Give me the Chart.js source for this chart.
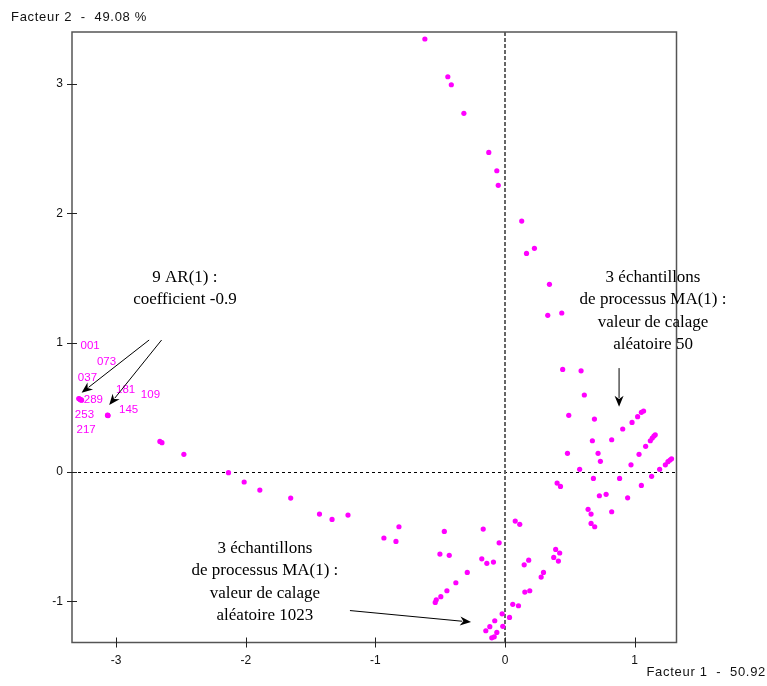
<!DOCTYPE html>
<html>
<head>
<meta charset="utf-8">
<script src="https://cdn.jsdelivr.net/npm/chart.js@4.4.0/dist/chart.umd.min.js"></script>
<style>
  html, body { margin: 0; padding: 0; background: #fff; }
</style>
</head>
<body>
<canvas id="chart" width="767" height="686"></canvas>
<script>
// factor coordinates (Facteur 1, Facteur 2)
const facteur1 = [
  -0.618, -0.441, -0.414, -0.317, -0.125, -0.063, -0.052, 0.129, 0.166, 0.227,
  0.343, 0.330, 0.438, 0.445, 0.587, 0.612, 0.492, 0.690, 0.908, 0.980,
  1.023, 1.052, 1.069, 0.674, 0.823, 0.482, 0.718, 0.736, 1.085, 1.121,
  1.136, 1.149, 1.159, 1.034, 0.972, 0.576, 1.193, 1.237, 1.257, 1.273,
  1.285, 0.682, 0.884, 1.131, 1.052, 0.402, 0.428, 0.728, 0.780, 0.946,
  0.641, 0.664, 0.823, 0.664, 0.692, 0.079, 0.114, -0.468, -0.168, -0.045,
  -0.502, -0.430, -0.179, -0.140, -0.089, 0.391, 0.422, 0.376, 0.412, 0.183,
  0.148, -0.291, 0.297, 0.279, -0.379, -0.448, -0.495, -0.530, -0.538, 0.153,
  0.191, 0.060, 0.104, -0.022, 0.035, -0.079, -0.117, -0.148, -0.017, -0.063,
  -0.083, -0.102, -2.477, -2.133, -2.012, -1.891, -1.653, -1.431, -1.334, -1.211,
  -0.934, -0.841, -0.818, -2.662, -2.646,
  -3.288, -3.283, -3.279, -3.275, -3.270, -3.266, -3.066, -3.064, -3.062
];
const facteur2 = [
  3.349, 3.057, 2.995, 2.774, 2.472, 2.330, 2.217, 1.941, 1.691, 1.730,
  1.452, 1.212, 1.230, 0.794, 0.783, 0.596, 0.439, 0.410, 0.333, 0.384,
  0.428, 0.462, 0.472, 0.242, 0.250, 0.145, 0.145, 0.083, 0.199, 0.242,
  0.263, 0.278, 0.288, 0.137, 0.056, 0.021, 0.021, 0.056, 0.080, 0.093,
  0.103, -0.049, -0.049, -0.033, -0.103, -0.085, -0.111, -0.183, -0.172, -0.199,
  -0.288, -0.325, -0.307, -0.397, -0.423, -0.379, -0.404, -0.459, -0.441, -0.547,
  -0.634, -0.644, -0.671, -0.706, -0.696, -0.598, -0.626, -0.660, -0.688, -0.681,
  -0.717, -0.776, -0.776, -0.812, -0.856, -0.918, -0.964, -0.988, -1.008, -0.928,
  -0.918, -1.023, -1.034, -1.096, -1.124, -1.150, -1.196, -1.227, -1.193, -1.240,
  -1.274, -1.282, 0.137, -0.005, -0.077, -0.139, -0.201, -0.325, -0.366, -0.333,
  -0.510, -0.536, -0.423, 0.237, 0.227,
  0.569, 0.566, 0.563, 0.561, 0.558, 0.556, 0.440, 0.438, 0.437
];
const xTicks = [-3, -2, -1, 0, 1];
const yTicks = [-1, 0, 1, 2, 3];

// labels of the AR(1) observations: text, left x, middle y (data units)
const idLabels = [
  ['001', -3.274, 0.974], ['073', -3.148, 0.853], ['037', -3.295, 0.729],
  ['289', -3.249, 0.562], ['253', -3.318, 0.441], ['217', -3.305, 0.325],
  ['181', -3.000, 0.634], ['109', -2.809, 0.596], ['145', -2.977, 0.480]
];

// comment blocks: lines, centre x, y of first line (data units)
const notes = [
  { lines: ['9 AR(1) :', 'coefficient -0.9'], x: -2.469, y: 1.508 },
  { lines: ['3 échantillons', 'de processus MA(1) :', 'valeur de calage', 'aléatoire 50'], x: 1.142, y: 1.508 },
  { lines: ['3 échantillons', 'de processus MA(1) :', 'valeur de calage', 'aléatoire 1023'], x: -1.852, y: -0.588 }
];
const arrows = [
  [-2.745, 1.021, -3.266, 0.613],
  [-2.649, 1.021, -3.053, 0.518],
  [0.880, 0.804, 0.880, 0.505],
  [-1.196, -1.071, -0.262, -1.160]
];

const points = facteur1.map((x, i) => ({ x: x, y: facteur2[i] }));

function drawArrow(ctx, x1, y1, x2, y2) {
  const a = Math.atan2(y2 - y1, x2 - x1);
  const len = 11, half = 4.5;
  ctx.beginPath();
  ctx.moveTo(x1, y1);
  ctx.lineTo(x2 - Math.cos(a) * len * 0.8, y2 - Math.sin(a) * len * 0.8);
  ctx.stroke();
  ctx.beginPath();
  ctx.moveTo(x2, y2);
  ctx.lineTo(x2 - Math.cos(a) * len - Math.sin(a) * half, y2 - Math.sin(a) * len + Math.cos(a) * half);
  ctx.lineTo(x2 - Math.cos(a) * len * 0.7, y2 - Math.sin(a) * len * 0.7);
  ctx.lineTo(x2 - Math.cos(a) * len + Math.sin(a) * half, y2 - Math.sin(a) * len - Math.cos(a) * half);
  ctx.closePath();
  ctx.fill();
}

const decor = {
  id: 'decor',
  beforeDatasetsDraw(chart) {
    const { ctx, chartArea: a, scales: { x, y } } = chart;
    const x0 = x.getPixelForValue(0), y0 = y.getPixelForValue(0);
    ctx.save();
    // zero lines
    ctx.setLineDash([3, 3]);
    ctx.strokeStyle = '#000';
    ctx.lineWidth = 1;
    ctx.beginPath();
    ctx.moveTo(a.left, Math.round(y0) + 0.5);
    ctx.lineTo(a.right, Math.round(y0) + 0.5);
    ctx.stroke();
    ctx.setLineDash([4, 2]);
    ctx.strokeStyle = '#666';
    ctx.lineWidth = 2;
    ctx.beginPath();
    ctx.moveTo(Math.round(x0), a.top);
    ctx.lineTo(Math.round(x0), a.bottom);
    ctx.stroke();
    ctx.setLineDash([]);
    // frame
    ctx.strokeStyle = '#555';
    ctx.lineWidth = 1.5;
    ctx.strokeRect(a.left, a.top, a.right - a.left, a.bottom - a.top);
    // tick crosses
    ctx.lineWidth = 1;
    ctx.strokeStyle = '#222';
    ctx.beginPath();
    xTicks.forEach(v => {
      const px = Math.round(x.getPixelForValue(v)) + 0.5;
      ctx.moveTo(px, a.bottom - 5);
      ctx.lineTo(px, a.bottom + 5);
    });
    yTicks.forEach(v => {
      const py = Math.round(y.getPixelForValue(v)) + 0.5;
      ctx.moveTo(a.left - 5, py);
      ctx.lineTo(a.left + 5, py);
    });
    ctx.stroke();
    ctx.restore();
  },
  afterDraw(chart) {
    const { ctx, scales: { x, y } } = chart;
    ctx.save();
    // observation ids
    ctx.fillStyle = '#ff00ff';
    ctx.font = '11.5px "Liberation Sans", Arial, sans-serif';
    ctx.textAlign = 'left';
    ctx.textBaseline = 'middle';
    idLabels.forEach(([t, lx, ly]) => ctx.fillText(t, x.getPixelForValue(lx), y.getPixelForValue(ly)));
    // comments
    ctx.fillStyle = '#000';
    ctx.font = '17px "Liberation Serif", "Times New Roman", serif';
    ctx.textAlign = 'center';
    notes.forEach(n => {
      const cx = x.getPixelForValue(n.x);
      const top = y.getPixelForValue(n.y);
      n.lines.forEach((l, i) => ctx.fillText(l, cx, top + i * 22.5));
    });
    // arrows
    ctx.strokeStyle = '#000';
    ctx.lineWidth = 1;
    arrows.forEach(([a1, b1, a2, b2]) => drawArrow(ctx,
      x.getPixelForValue(a1), y.getPixelForValue(b1), x.getPixelForValue(a2), y.getPixelForValue(b2)));
    // axis titles
    ctx.fillStyle = '#111';
    ctx.font = '13px "Liberation Sans", Arial, sans-serif';
    ctx.letterSpacing = '0.7px';
    ctx.textAlign = 'left';
    ctx.fillText('Facteur 2  -  49.08 %', 11, 17);
    ctx.textAlign = 'right';
    ctx.fillText('Facteur 1  -  50.92', 766, 672);
    ctx.restore();
  }
};

const tickFont = { family: '"Liberation Sans", Arial, sans-serif', size: 12 };

new Chart(document.getElementById('chart'), {
  type: 'scatter',
  data: {
    datasets: [{
      data: points,
      backgroundColor: '#ff00ff',
      borderWidth: 0,
      pointRadius: 2.6,
      pointHoverRadius: 2.6
    }]
  },
  options: {
    responsive: false,
    animation: false,
    devicePixelRatio: 1,
    layout: { padding: { top: 32, right: 90.5, left: 0, bottom: 0 } },
    plugins: { legend: { display: false }, tooltip: { enabled: false } },
    scales: {
      x: {
        type: 'linear',
        min: -3.34,
        max: 1.323,
        grid: { display: false },
        border: { display: false },
        ticks: { color: '#111', font: tickFont, padding: 3, maxRotation: 0 },
        afterBuildTicks: s => { s.ticks = xTicks.map(v => ({ value: v })); },
        afterFit: s => { s.height = 43.5; }
      },
      y: {
        type: 'linear',
        min: -1.318,
        max: 3.403,
        grid: { display: false },
        border: { display: false },
        ticks: { color: '#111', font: tickFont, padding: 1 },
        afterBuildTicks: s => { s.ticks = yTicks.map(v => ({ value: v })); },
        afterFit: s => { s.width = 72; }
      }
    }
  },
  plugins: [decor]
});
</script>
</body>
</html>
